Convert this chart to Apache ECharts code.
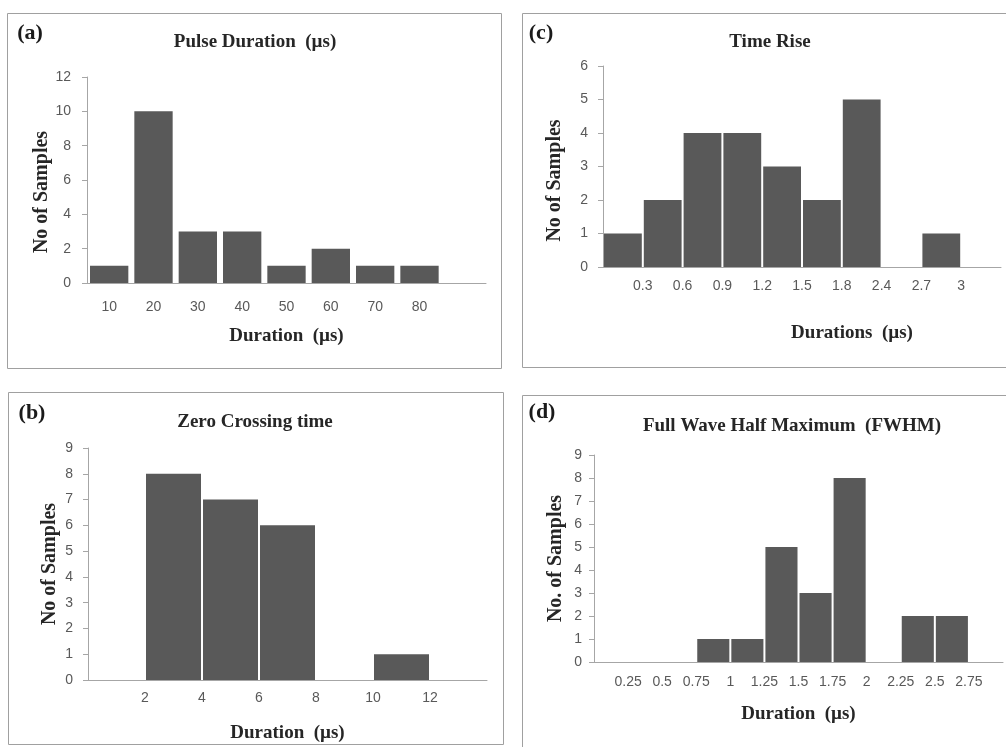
<!DOCTYPE html>
<html lang="en">
<head>
	<meta charset="UTF-8">
	<title>Pulse parameters</title>
	<script src="https://cdn.jsdelivr.net/npm/echarts/dist/echarts.min.js"></script>
	<style>
		* {
			margin: 0;
			padding: 0;
		}
		body {
			background: #fff;
		}
		#container {
			width: 1006px;
			height: 747px;
		}
	</style>
</head>
<body>
<div id="container"></div>
<script type="text/javascript">
	// (a) pulse duration: labels under the bars
	var aLabels = ['10', '20', '30', '40', '50', '60', '70', '80', ''];
	var aCounts = [1, 10, 3, 3, 1, 2, 1, 1, 0];

	// (b) zero crossing time: labels on the bin edges
	var bEdges = ['', '2', '4', '6', '8', '10', '12', ''];
	var bCounts = [0, 8, 7, 6, 0, 1, 0];

	// (c) time rise
	var cEdges = ['', '0.3', '0.6', '0.9', '1.2', '1.5', '1.8', '2.4', '2.7', '3', ''];
	var cCounts = [1, 2, 4, 4, 3, 2, 5, 0, 1, 0];

	// (d) FWHM
	var dEdges = ['', '0.25', '0.5', '0.75', '1', '1.25', '1.5', '1.75', '2', '2.25', '2.5', '2.75', ''];
	var dCounts = [0, 0, 0, 1, 1, 5, 3, 8, 0, 2, 2, 0];

	var serif = '"Liberation Serif", "DejaVu Serif", serif';
	var sans = '"Liberation Sans", Arial, sans-serif';
	var axisGrey = '#a6a6a6';
	var barGrey = '#595959';

	var chart = echarts.init(document.getElementById('container'));

	function bins(edges) {
		var out = [];
		for (var i = 0; i < edges.length - 1; i++) out.push(edges[i] + '-' + edges[i + 1]);
		return out;
	}

	function lineStyle() {
		return {lineStyle: {color: axisGrey, width: 1}};
	}

	var grids = [
		{left: 87, top: 77, width: 399, height: 206},   // a
		{left: 88, top: 448, width: 399, height: 232},  // b
		{left: 603, top: 66, width: 398, height: 201},  // c
		{left: 594, top: 455, width: 411, height: 207}  // d
	];

	var xAxes = [];
	var yAxes = [];
	var series = [];

	// panel a - plain category axis
	xAxes.push({
		type: 'category', gridIndex: 0, data: aLabels, position: 'bottom',
		axisLine: lineStyle(), axisTick: {length: 5, lineStyle: {color: axisGrey}},
		axisLabel: {color: barGrey, fontFamily: sans, fontSize: 14, margin: 17, interval: 0},
		name: 'Duration  (\u00b5s)', nameLocation: 'middle', nameGap: 44,
		nameTextStyle: {fontFamily: serif, fontWeight: 'bold', fontSize: 19, color: '#262626'}
	});

	// panels b, c, d - bins axis (no labels) + edge axis (labels on ticks)
	var hist = [
		{grid: 1, edges: bEdges, counts: bCounts, margin: 11, nameGap: 44, pad: [0, 0, 0, 0]},
		{grid: 2, edges: cEdges, counts: cCounts, margin: 12, nameGap: 57, pad: [0, 0, 0, 100]},
		{grid: 3, edges: dEdges, counts: dCounts, margin: 13, nameGap: 43, pad: [0, 0, 0, 0]}
	];
	var names = {1: 'Duration  (\u00b5s)', 2: 'Durations  (\u00b5s)', 3: 'Duration  (\u00b5s)'};

	hist.forEach(function (h) {
		xAxes.push({
			type: 'category', gridIndex: h.grid, data: bins(h.edges), position: 'bottom',
			axisLine: lineStyle(), axisTick: {length: 5, lineStyle: {color: axisGrey}},
			axisLabel: {show: false}
		});
		xAxes.push({
			type: 'category', gridIndex: h.grid, data: h.edges, position: 'bottom', boundaryGap: false,
			axisLine: {show: false}, axisTick: {show: false},
			axisLabel: {color: barGrey, fontFamily: sans, fontSize: 14, margin: h.margin, interval: 0},
			name: names[h.grid], nameLocation: 'middle', nameGap: h.nameGap,
			nameTextStyle: {fontFamily: serif, fontWeight: 'bold', fontSize: 19, color: '#262626', padding: h.pad}
		});
	});

	var yCfg = [
		{max: 12, interval: 2, name: 'No of Samples', gap: 32, pad: [0, 24, 0, 0], margin: 16},
		{max: 9, interval: 1, name: 'No of Samples', gap: 28, pad: [0, 0, 0, 0], margin: 15},
		{max: 6, interval: 1, name: 'No of Samples', gap: 38, pad: [0, 28, 0, 0], margin: 15},
		{max: 9, interval: 1, name: 'No. of Samples', gap: 28, pad: [0, 0, 0, 0], margin: 12}
	];
	yCfg.forEach(function (c, i) {
		yAxes.push({
			type: 'value', gridIndex: i, min: 0, max: c.max, interval: c.interval,
			splitLine: {show: false},
			axisLine: {show: true, lineStyle: {color: axisGrey}},
			axisTick: {show: true, length: 5, lineStyle: {color: axisGrey}},
			axisLabel: {color: barGrey, fontFamily: sans, fontSize: 14, margin: c.margin},
			name: c.name, nameLocation: 'middle', nameGap: c.gap,
			nameTextStyle: {fontFamily: serif, fontWeight: 'bold', fontSize: 20, color: '#262626', padding: c.pad}
		});
	});

	series.push({
		type: 'bar', xAxisIndex: 0, yAxisIndex: 0, data: aCounts,
		barCategoryGap: 6, itemStyle: {color: barGrey}, silent: true
	});
	// bins axes are xAxis 1, 3, 5
	series.push({type: 'bar', xAxisIndex: 1, yAxisIndex: 1, data: bCounts, barCategoryGap: 2, itemStyle: {color: barGrey}, silent: true});
	series.push({type: 'bar', xAxisIndex: 3, yAxisIndex: 2, data: cCounts, barCategoryGap: 2, itemStyle: {color: barGrey}, silent: true});
	series.push({type: 'bar', xAxisIndex: 5, yAxisIndex: 3, data: dCounts, barCategoryGap: 2, itemStyle: {color: barGrey}, silent: true});

	var titleStyle = {fontFamily: serif, fontWeight: 'bold', fontSize: 19, color: '#262626'};
	var titles = [
		{text: 'Pulse Duration  (\u00b5s)', left: 255, top: 33},
		{text: 'Time Rise', left: 770, top: 33},
		{text: 'Zero Crossing time', left: 255, top: 413},
		{text: 'Full Wave Half Maximum  (FWHM)', left: 792, top: 417}
	].map(function (t) {
		return {text: t.text, left: t.left, top: t.top, textAlign: 'center', padding: 0, textStyle: titleStyle};
	});

	var boxStyle = {fill: 'none', stroke: '#a0a0a0', lineWidth: 1};
	var tagStyle = {fontFamily: serif, fontWeight: 'bold', fontSize: 22, fill: '#1a1a1a', textAlign: 'center', textVerticalAlign: 'middle'};
	var graphic = [
		{type: 'rect', shape: {x: 7.5, y: 13.5, width: 494, height: 355}, style: boxStyle, silent: true},
		{type: 'rect', shape: {x: 522.5, y: 13.5, width: 520, height: 354}, style: boxStyle, silent: true},
		{type: 'rect', shape: {x: 8.5, y: 392.5, width: 495, height: 352}, style: boxStyle, silent: true},
		{type: 'rect', shape: {x: 522.5, y: 395.5, width: 520, height: 400}, style: boxStyle, silent: true},
		{type: 'text', x: 30, y: 33, style: Object.assign({text: '(a)'}, tagStyle)},
		{type: 'text', x: 541, y: 33, style: Object.assign({text: '(c)'}, tagStyle)},
		{type: 'text', x: 32, y: 413, style: Object.assign({text: '(b)'}, tagStyle)},
		{type: 'text', x: 542, y: 412, style: Object.assign({text: '(d)'}, tagStyle)}
	];

	chart.setOption({
		animation: false,
		title: titles,
		grid: grids,
		xAxis: xAxes,
		yAxis: yAxes,
		series: series,
		graphic: graphic
	});
</script>
</body>
</html>
